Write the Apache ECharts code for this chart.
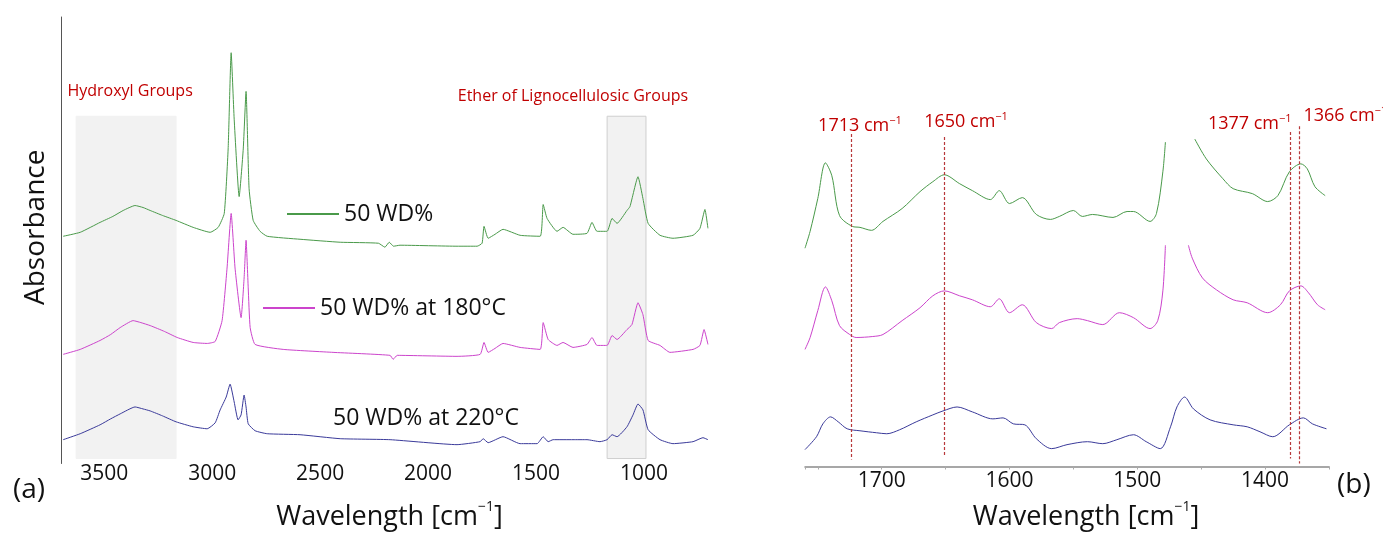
<!DOCTYPE html>
<html><head><meta charset="utf-8">
<script src="https://cdn.jsdelivr.net/npm/echarts@6/dist/echarts.min.js"></script>
<style>html,body{margin:0;padding:0;background:#fff}#c{width:1383px;height:536px}</style>
</head><body><div id="c"></div>
<script>
const FONT = 'Open Sans';
const seriesNames = ['50 WD%', '50 WD% at 180°C', '50 WD% at 220°C'];
const seriesColors = ['#4a9a4a', '#cc44cc', '#3a3a9a'];

// Panel (a): [wavenumber cm-1, absorbance (offset, a.u.)]
const leftGreen = [[3690,2.29],[3611,2.33],[3519,2.43],[3460,2.49],[3412,2.55],[3357,2.60],[3320,2.58],[3287,2.55],[3230,2.50],[3167,2.45],[3088,2.38],[3009,2.33],[2972,2.38],[2944,2.52],[2926,3.17],[2912,4.14],[2898,3.47],[2875,2.69],[2856,3.17],[2843,3.75],[2829,2.77],[2810,2.45],[2778,2.34],[2745,2.29],[2593,2.26],[2407,2.23],[2230,2.22],[2200,2.18],[2180,2.23],[2160,2.19],[2130,2.20],[1866,2.19],[1773,2.19],[1750,2.22],[1741,2.39],[1722,2.27],[1690,2.31],[1653,2.36],[1574,2.30],[1481,2.29],[1467,2.61],[1449,2.47],[1403,2.34],[1375,2.38],[1329,2.31],[1264,2.32],[1241,2.43],[1218,2.34],[1171,2.34],[1148,2.47],[1125,2.42],[1079,2.55],[1065,2.59],[1028,2.89],[1005,2.67],[981,2.42],[926,2.30],[866,2.27],[773,2.30],[741,2.37],[718,2.56],[704,2.37]];
const leftPink = [[3690,1.10],[3611,1.15],[3519,1.24],[3470,1.30],[3426,1.37],[3366,1.44],[3330,1.42],[3287,1.39],[3220,1.33],[3162,1.27],[3088,1.22],[3023,1.21],[2986,1.23],[2954,1.44],[2931,1.97],[2912,2.52],[2894,1.97],[2866,1.47],[2852,1.87],[2843,2.25],[2833,1.77],[2824,1.37],[2801,1.20],[2671,1.15],[2440,1.12],[2176,1.09],[2162,1.05],[2143,1.09],[1866,1.08],[1759,1.10],[1741,1.22],[1722,1.12],[1690,1.16],[1653,1.21],[1574,1.17],[1481,1.15],[1467,1.42],[1444,1.25],[1403,1.19],[1375,1.22],[1329,1.17],[1264,1.20],[1241,1.27],[1218,1.19],[1171,1.19],[1148,1.29],[1125,1.25],[1079,1.35],[1056,1.40],[1028,1.62],[1005,1.50],[981,1.24],[926,1.19],[880,1.12],[773,1.15],[741,1.19],[722,1.35],[704,1.20]];
const leftBlue = [[3690,0.24],[3611,0.30],[3519,0.39],[3470,0.45],[3426,0.50],[3357,0.57],[3320,0.55],[3287,0.53],[3230,0.48],[3167,0.42],[3088,0.37],[3023,0.35],[2986,0.41],[2963,0.54],[2935,0.67],[2917,0.80],[2898,0.62],[2880,0.44],[2866,0.49],[2852,0.69],[2843,0.57],[2833,0.40],[2801,0.33],[2745,0.30],[2593,0.29],[2407,0.25],[2176,0.24],[1866,0.19],[1759,0.22],[1745,0.25],[1722,0.21],[1653,0.27],[1574,0.20],[1495,0.20],[1467,0.27],[1444,0.22],[1421,0.24],[1329,0.24],[1264,0.24],[1204,0.22],[1171,0.24],[1148,0.29],[1125,0.27],[1079,0.37],[1051,0.49],[1028,0.60],[1005,0.54],[981,0.34],[926,0.24],[866,0.20],[773,0.22],[727,0.26],[704,0.24]];

// Panel (b)
const rightGreen = [[1760,2.20],[1756,2.37],[1750,2.70],[1744,3.06],[1739,2.93],[1733,2.53],[1723,2.42],[1717,2.41],[1708,2.38],[1699,2.47],[1684,2.60],[1670,2.77],[1660,2.87],[1651,2.94],[1639,2.85],[1629,2.78],[1615,2.69],[1608,2.78],[1600,2.65],[1590,2.71],[1579,2.54],[1568,2.49],[1561,2.52],[1550,2.58],[1543,2.52],[1535,2.54],[1519,2.51],[1508,2.57],[1503,2.57],[1490,2.47],[1485,2.55],[1480,2.97],[1478,3.27],[1466,null],[1455,3.30],[1446,3.10],[1433,2.90],[1425,2.80],[1410,2.75],[1398,2.67],[1390,2.73],[1381,2.97],[1372,3.05],[1367,3.00],[1361,2.82],[1353,2.73]];
const rightPink = [[1760,1.18],[1756,1.30],[1750,1.57],[1744,1.81],[1739,1.67],[1733,1.42],[1725,1.33],[1720,1.30],[1707,1.31],[1699,1.33],[1684,1.47],[1670,1.60],[1660,1.72],[1651,1.77],[1639,1.72],[1629,1.68],[1615,1.61],[1608,1.69],[1600,1.55],[1590,1.63],[1579,1.45],[1567,1.39],[1561,1.45],[1547,1.49],[1539,1.47],[1527,1.43],[1514,1.55],[1503,1.50],[1490,1.39],[1484,1.47],[1480,1.77],[1478,2.23],[1469,null],[1460,2.23],[1457,2.10],[1449,1.90],[1438,1.78],[1425,1.68],[1414,1.65],[1398,1.55],[1388,1.63],[1381,1.77],[1372,1.82],[1366,1.75],[1359,1.63],[1353,1.58]];
const rightBlue = [[1760,0.17],[1751,0.30],[1746,0.43],[1740,0.50],[1734,0.45],[1727,0.38],[1717,0.36],[1704,0.34],[1696,0.33],[1686,0.37],[1673,0.45],[1660,0.52],[1652,0.56],[1641,0.60],[1629,0.55],[1613,0.48],[1605,0.49],[1597,0.43],[1588,0.42],[1579,0.28],[1567,0.18],[1555,0.22],[1539,0.25],[1527,0.23],[1516,0.27],[1503,0.32],[1493,0.25],[1482,0.18],[1474,0.40],[1469,0.60],[1463,0.70],[1456,0.58],[1443,0.47],[1425,0.42],[1414,0.40],[1404,0.35],[1394,0.30],[1381,0.42],[1370,0.49],[1363,0.43],[1352,0.38]];

// Shaded regions in (a)
const bandNames = ['Hydroxyl Groups', 'Ether of Lignocellulosic Groups'];
const bandFrom = [3630, 1171];
const bandTo = [3167, 991];
const bandTop = 3.50, bandBottom = 0.05;
const bandLabelAt = [[3380, 3.75], [1329, 3.70]];

// Reference lines in (b)
const peakLabels = ['1713', '1650', '1377', '1366'];
const peakLinePos = [1724, 1651, 1380, 1373];
const peakLineTop = [3.35, 3.32, 3.37, 3.43];
const peakLineBottom = [0.07, 0.10, 0.08, 0.03];
const peakLabelAt = [[1717, 3.43], [1634, 3.47], [1412, 3.45], [1370, 3.53]];
const peakLabelPlace = ['inside', 'inside', 'inside', 'right'];

const RED = '#c00000';
const chart = echarts.init(document.getElementById('c'));

function lineSeries(i, data, axisIdx) {
  return {
    type: 'line', name: seriesNames[i], data: data,
    xAxisIndex: axisIdx, yAxisIndex: axisIdx,
    symbol: 'none', smooth: axisIdx === 1 ? 0.3 : 0.15, connectNulls: false, z: 3,
    lineStyle: { color: seriesColors[i], width: 1 },
    itemStyle: { color: seriesColors[i] },
    emphasis: { disabled: true }, animation: false
  };
}

const supRich = {
  a: { fontFamily: FONT, fontSize: 18, color: RED, lineHeight: 22 },
  s: { fontFamily: FONT, fontSize: 11, color: RED, verticalAlign: 'top', lineHeight: 12 }
};
const titleRich = {
  a: { fontFamily: FONT, fontSize: 27, color: '#111', lineHeight: 34 },
  s: { fontFamily: FONT, fontSize: 14, color: '#111', verticalAlign: 'top', lineHeight: 14 }
};
const legendText = { fontSize: 23, color: '#111', fontFamily: FONT, lineHeight: 26 };

const option = {
  backgroundColor: '#fff',
  animation: false,
  textStyle: { fontFamily: FONT },
  grid: [
    { left: 61, top: 17, width: 691, height: 450 },
    { left: 805, top: 17, width: 524, height: 453 }
  ],
  xAxis: [
    {
      type: 'value', gridIndex: 0, min: 500, max: 3700, interval: 500, inverse: true,
      axisLine: { show: false }, axisTick: { show: false }, splitLine: { show: false },
      axisLabel: { margin: 0, fontSize: 21, color: '#111', fontFamily: FONT,
        formatter: v => (v >= 1000 && v <= 3500 && v % 500 === 0) ? String(v) : '' },
      name: '{a|Wavelength [cm}{s|−1}{a|]}', nameLocation: 'middle', nameGap: 37,
      nameTextStyle: { rich: titleRich, padding: [0, 34, 0, 0] }
    },
    {
      type: 'value', gridIndex: 1, min: 1350, max: 1760, interval: 50, inverse: true,
      axisLine: { show: true, onZero: false, lineStyle: { color: '#8a8a8a', width: 1.5 } },
      axisTick: { show: true, length: 3, lineStyle: { color: '#aaa' } },
      splitLine: { show: false },
      axisLabel: { margin: 4, fontSize: 21, color: '#111', fontFamily: FONT,
        formatter: v => (v >= 1400 && v <= 1700 && v % 100 === 0) ? String(v) : '' },
      name: '{a|Wavelength [cm}{s|−1}{a|]}', nameLocation: 'middle', nameGap: 34,
      nameTextStyle: { rich: titleRich, padding: [0, 0, 0, 38] }
    }
  ],
  yAxis: [
    {
      type: 'value', gridIndex: 0, min: 0, max: 4.5,
      axisLine: { show: true, lineStyle: { color: '#555', width: 1 } },
      axisTick: { show: false }, axisLabel: { show: false }, splitLine: { show: false },
      name: 'Absorbance', nameLocation: 'middle', nameGap: 11,
      nameTextStyle: { fontSize: 28, color: '#111', fontFamily: FONT, padding: [0, 0, 0, 26] }
    },
    {
      type: 'value', gridIndex: 1, min: 0, max: 4.53, show: false
    }
  ],
  legend: [
    { left: 287, top: 201, padding: 0, itemWidth: 52, itemHeight: 2, selectedMode: false,
      data: [{ name: seriesNames[0], icon: 'rect' }], textStyle: legendText },
    { left: 263, top: 295, padding: 0, itemWidth: 52, itemHeight: 2, selectedMode: false,
      data: [{ name: seriesNames[1], icon: 'rect' }], textStyle: legendText },
    { left: 327, top: 405, padding: 0, itemWidth: 1, itemHeight: 14, selectedMode: false,
      data: [{ name: seriesNames[2], icon: 'none' }], textStyle: legendText }
  ],
  graphic: [
    { type: 'text', left: 13, top: 476, style: { text: '(a)', fontSize: 28, fontFamily: FONT, fill: '#111' } },
    { type: 'text', left: 1337, top: 471, style: { text: '(b)', fontSize: 28, fontFamily: FONT, fill: '#111' } }
  ],
  series: [
    {
      type: 'line', name: 'bands', data: [], xAxisIndex: 0, yAxisIndex: 0, z: 1, silent: true,
      markArea: {
        silent: true,
        data: bandNames.map((n, i) => [
          { coord: [bandFrom[i], bandTop], itemStyle: { color: '#f2f2f2', borderColor: i === 1 ? '#cfcfcf' : '#f2f2f2', borderWidth: 1 } },
          { coord: [bandTo[i], bandBottom] }
        ]),
        label: { show: false }
      },
      markPoint: {
        silent: true, symbol: 'circle', symbolSize: 0,
        data: bandNames.map((n, i) => ({ name: n, coord: bandLabelAt[i] })),
        label: { show: true, position: 'inside', formatter: '{b}', color: RED, fontSize: 16, fontFamily: FONT }
      }
    },
    lineSeries(0, leftGreen, 0),
    lineSeries(1, leftPink, 0),
    lineSeries(2, leftBlue, 0),
    {
      type: 'line', name: 'peaks', data: [], xAxisIndex: 1, yAxisIndex: 1, z: 2, silent: true,
      markLine: {
        silent: true, symbol: ['none', 'none'],
        lineStyle: { color: '#b8383a', type: [3, 2], width: 1.2 },
        label: { show: false },
        data: peakLinePos.map((p, i) => [
          { coord: [p, peakLineTop[i]] }, { coord: [p, peakLineBottom[i]] }
        ])
      },
      markPoint: {
        silent: true, symbol: 'circle', symbolSize: 0,
        data: peakLabels.map((l, i) => ({ name: l, coord: peakLabelAt[i],
          label: { position: peakLabelPlace[i], distance: 0 } })),
        label: { show: true, position: 'inside', formatter: p => '{a|' + p.name + ' cm}{s|−1}', rich: supRich }
      }
    },
    lineSeries(0, rightGreen, 1),
    lineSeries(1, rightPink, 1),
    lineSeries(2, rightBlue, 1)
  ]
};
chart.setOption(option);
</script>
</body></html>
